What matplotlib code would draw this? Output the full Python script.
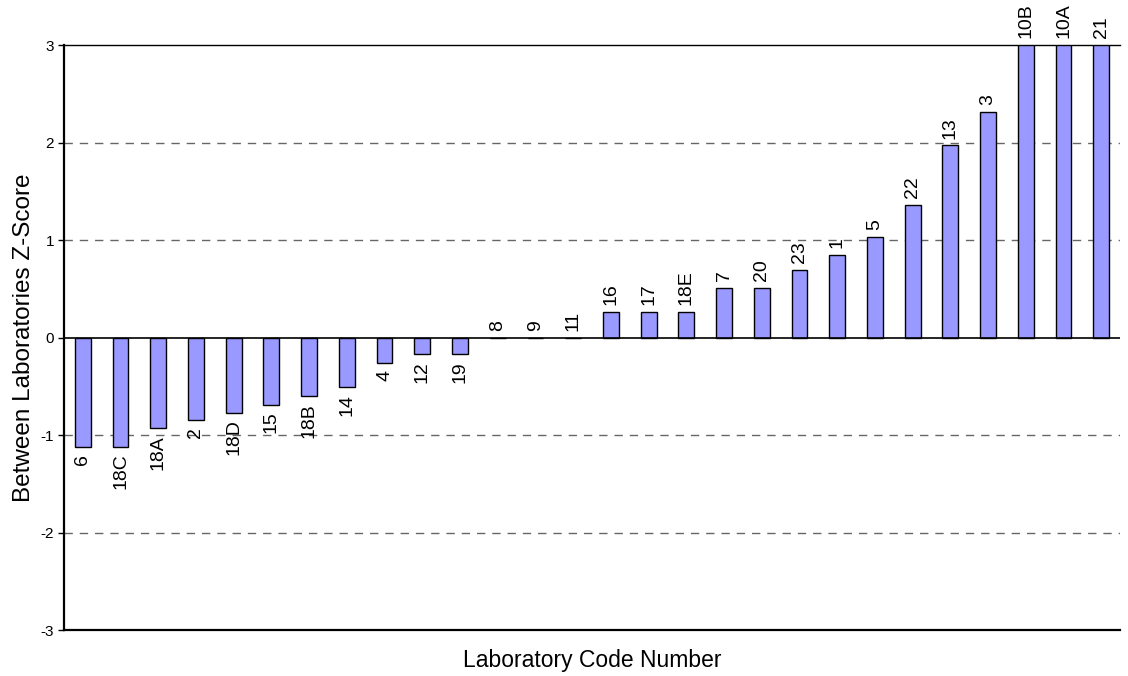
import matplotlib
matplotlib.use("Agg")
import matplotlib.pyplot as plt

plt.rcParams['font.family'] = ['Liberation Sans', 'DejaVu Sans']

# laboratory codes and between-laboratories z-scores (bars above 3 are cut off)
labs = ["6", "18C", "18A", "2", "18D", "15", "18B", "14", "4", "12", "19",
        "8", "9", "11", "16", "17", "18E", "7", "20", "23", "1", "5",
        "22", "13", "3", "10B", "10A", "21"]
zscores = [-1.12, -1.12, -0.93, -0.85, -0.77, -0.69, -0.60, -0.51, -0.26, -0.17, -0.17,
           0.0, 0.0, 0.0, 0.26, 0.26, 0.26, 0.51, 0.51, 0.69, 0.85, 1.03,
           1.36, 1.97, 2.31, 3.0, 3.0, 3.0]
yticks = [-3, -2, -1, 0, 1, 2, 3]

fig = plt.figure(figsize=(11.28, 6.76), dpi=100)
ax = fig.add_axes([0.0567, 0.068, 0.9363, 0.8654])

x = range(len(labs))
ax.bar(x, zscores, width=0.42, color="#9999FF", edgecolor="black", linewidth=1.0, zorder=3)

for i, v in enumerate(zscores):
    if v < 0:
        ax.annotate(labs[i], (i, v), xytext=(0, -5), textcoords="offset points",
                    rotation=90, ha="center", va="top", fontsize=14)
    else:
        ax.annotate(labs[i], (i, min(v, 3)), xytext=(0, 5), textcoords="offset points",
                    rotation=90, ha="center", va="bottom", fontsize=14, annotation_clip=False)

ax.set_xlim(-0.5, len(labs) - 0.5)
ax.set_ylim(-3, 3)
ax.set_yticks(yticks)
ax.set_yticklabels([str(t) for t in yticks], fontsize=11)
ax.set_xticks([])
ax.tick_params(axis="y", length=4, width=1, direction="out", pad=3)

for t in [-2, -1, 1, 2]:
    ax.axhline(t, color="#666666", linestyle=(0, (6, 5)), linewidth=1.0, zorder=1)
ax.axhline(0, color="black", linewidth=1.2, zorder=4)

ax.spines["right"].set_visible(False)
ax.spines["top"].set_linewidth(1.0)
ax.spines["left"].set_linewidth(1.6)
ax.spines["bottom"].set_linewidth(1.6)

ax.set_xlabel("Laboratory Code Number", fontsize=16.5, labelpad=14)
ax.set_ylabel("Between Laboratories Z-Score", fontsize=17.5, labelpad=4)

fig.savefig("out.png", dpi=100)
